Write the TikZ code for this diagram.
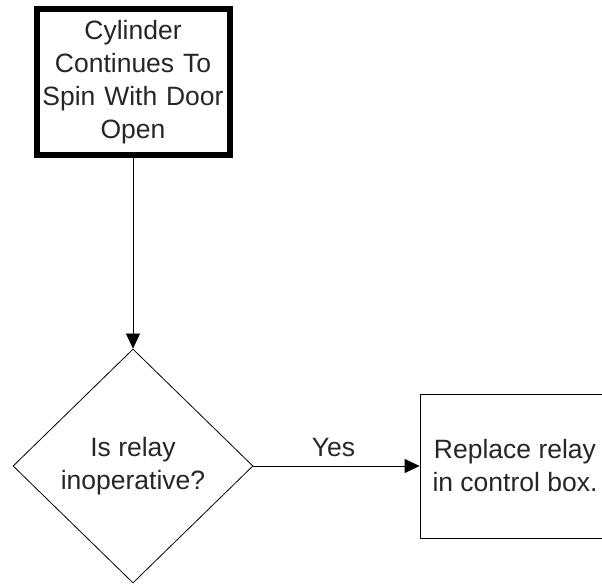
\documentclass[tikz,border=0pt]{standalone}
\usepackage{fontspec}
\setmainfont{Liberation Sans}
\usetikzlibrary{arrows.meta, shapes.geometric, positioning}

\begin{document}
\begin{tikzpicture}[x=1pt, y=1pt]
      \tikzset{node distance=2cm, every node/.style={font=\fontsize{26.5}{33}\selectfont, text=black!85},
        startbox/.style={draw, rectangle, line width=6pt, minimum width=193pt, minimum height=146pt, text width=187pt, align=center, inner sep=0pt},
        decision/.style={draw, diamond, line width=0.8pt, minimum width=240pt, minimum height=234pt, inner sep=0pt, align=center},
        actionbox/.style={draw, rectangle, line width=0.8pt, minimum width=190pt, minimum height=144pt, align=center},
        every edge/.style={draw, line width=0.8pt, -{Triangle[length=15pt, width=14pt]}}}
      \useasboundingbox (0,0) rectangle (602,-586);
      \node[startbox] (start) at (133,-82) {Cylinder\\Continues To\\Spin With Door\\Open};
      \node[decision, below of=start, node distance=384pt] (relay) {Is relay\\inoperative?};
      \node[actionbox, right of=relay, node distance=382pt] (replace) {Replace relay\\in control box.};
      \draw (start) edge (relay);
      \draw (relay) edge node[above, xshift=-3pt, yshift=6pt] {Yes} (replace);
    \end{tikzpicture}
\end{document}
